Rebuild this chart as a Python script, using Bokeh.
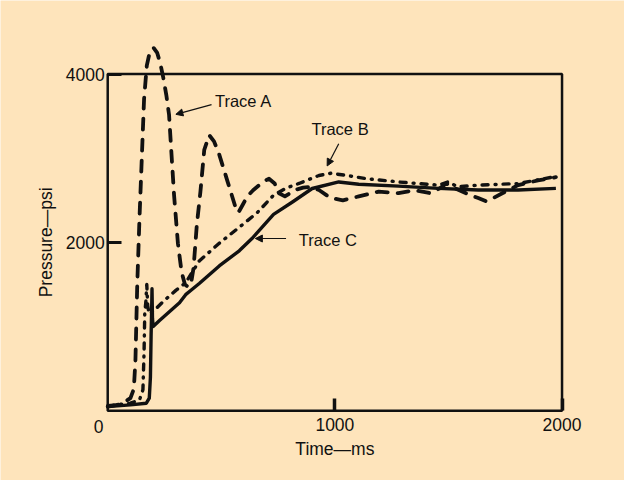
import math
from bokeh.plotting import figure
from bokeh.models import Range1d, FixedTicker, Label, Arrow, NormalHead
from bokeh.embed import file_html
from bokeh.resources import INLINE

# ---- data (time in ms, pressure in psi) ----
trace_a_t = [0, 60, 100, 115, 122, 130, 140, 150, 160, 172, 185, 202, 218, 232, 245, 258, 270,
             292, 309, 325, 340, 355, 368, 378, 392, 408, 425, 447, 468, 491, 526, 561, 575,
             595, 614, 640, 667, 690, 710, 735, 754, 780, 824, 860, 895, 930, 982, 1035, 1105,
             1193, 1280, 1350, 1421, 1460, 1491, 1530, 1580, 1631, 1666, 1700, 1737, 1807, 1894, 1973]
trace_a_p = [50, 80, 150, 260, 600, 1500, 2300, 3000, 3700, 4100, 4260, 4310, 4250, 4120, 3950, 3750, 3517,
             2563, 1990, 1650, 1500, 1470, 1530, 1700, 2200, 2600, 3100, 3273, 3200, 3043, 2737, 2431, 2354,
             2450, 2546, 2620, 2680, 2730, 2756, 2700, 2584, 2546, 2622, 2650, 2660, 2622, 2527, 2500, 2546,
             2603, 2584, 2620, 2584, 2640, 2699, 2640, 2580, 2527, 2488, 2530, 2584, 2680, 2737, 2775]

trace_b_t = [0, 100, 140, 155, 160, 163, 168, 172, 176, 182, 200, 245, 300, 343, 403, 491, 579, 657,
             730, 785, 842, 930, 982, 1052, 1140, 1280, 1456, 1500, 1540, 1631, 1807, 1973]
trace_b_p = [60, 90, 130, 250, 700, 1150, 1300, 1500, 1250, 1150, 1180, 1300, 1430, 1520, 1780, 1990, 2180, 2350,
             2560, 2644, 2700, 2795, 2821, 2795, 2756, 2718, 2680, 2720, 2660, 2680, 2699, 2783]

trace_c_t = [0, 100, 170, 183, 188, 191, 193, 195, 197, 200, 228, 316, 343, 368, 403, 491, 579, 635,
             730, 815, 900, 1017, 1105, 1280, 1456, 1631, 1807, 1973]
trace_c_p = [50, 70, 90, 150, 400, 900, 1150, 1450, 1100, 1000, 1072, 1282, 1379, 1435, 1512, 1720, 1900, 2046,
             2333, 2483, 2640, 2718, 2691, 2668, 2641, 2622, 2622, 2641]

x_ticks = [1000, 2000]
y_ticks = [2000, 4000]
x_max = 2000
y_max = 4000

x_title = "Time\u2014ms"
y_title = "Pressure\u2014psi"
labels = ["Trace A", "Trace B", "Trace C"]
label_pos = [(472, 3678), (897, 3345), (841, 2034)]
arrow_from = [(457, 3636), (1017, 3172), (785, 2046)]
arrow_to = [(300, 3521), (966, 2908), (650, 2046)]

BG = "#FEE4BB"
INK = "#111111"
FONT = "Liberation Sans"
FS = "17.5px"

# the data frame spans the whole canvas; the axes sit at fixed data locations
p = figure(width=624, height=480, output_backend="svg", toolbar_location=None,
           x_range=Range1d(-472, 2275), y_range=Range1d(-828, 4873),
           min_border=0, min_border_left=0, min_border_right=0,
           min_border_top=0, min_border_bottom=0,
           background_fill_color=BG, border_fill_color=BG)
p.outline_line_color = None
p.grid.visible = False

# frame box
p.quad(left=[0], right=[x_max], bottom=[0], top=[y_max], fill_color=None,
       line_color=INK, line_width=2.5)

p.line(trace_c_t, trace_c_p, line_color=INK, line_width=3.4, line_join="round")
p.line(trace_b_t, trace_b_p, line_color=INK, line_width=3.4, line_dash="6 7 1 7",
       line_cap="round", line_join="round")
p.line(trace_a_t, trace_a_p, line_color=INK, line_width=3.8, line_dash="11 10",
       line_cap="round", line_join="round")

# axes
for ax in (p.xaxis[0], p.yaxis[0]):
    ax.fixed_location = 0
    ax.axis_line_color = None
    ax.minor_tick_line_color = None
    ax.major_tick_out = 0
    ax.major_tick_line_color = INK
    ax.major_label_text_font = FONT
    ax.major_label_text_font_size = FS
    ax.major_label_text_color = INK

p.xaxis.ticker = FixedTicker(ticks=x_ticks)
p.xaxis.major_tick_in = 12
p.xaxis.major_tick_line_width = 3.5
p.xaxis.major_label_standoff = 7

p.yaxis.ticker = FixedTicker(ticks=y_ticks)
p.yaxis.major_tick_in = 14
p.yaxis.major_tick_line_width = 3
p.yaxis.major_label_standoff = 3

def txt(x, y, s, **kw):
    opts = dict(text_align="center", text_baseline="middle", text_font=FONT,
                text_font_size=FS, text_color=INK)
    opts.update(kw)
    p.add_layout(Label(x=x, y=y, text=s, **opts))

# axis titles and the corner "0"
txt(x_max / 2, -455, x_title)
txt(-271, y_max / 2, y_title, angle=math.pi / 2)
txt(0, -192, "0", x_offset=-9)

for s, (lx, ly), (fx, fy), (tx, ty) in zip(labels, label_pos, arrow_from, arrow_to):
    txt(lx, ly, s, text_align="left", text_font_size="16.5px")
    p.add_layout(Arrow(x_start=fx, y_start=fy, x_end=tx, y_end=ty, line_color=INK, line_width=1.2,
                       end=NormalHead(size=7, fill_color=INK, line_color=INK)))

open("out.html", "w").write(file_html(p, INLINE))
